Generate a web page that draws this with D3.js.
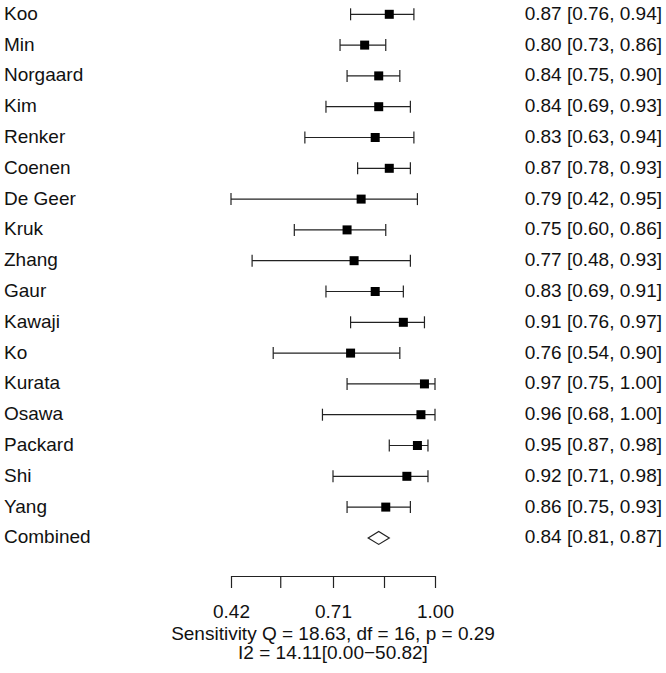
<!DOCTYPE html>
<html>
<head>
<meta charset="utf-8">
<script src="https://cdn.jsdelivr.net/npm/d3@7"></script>
<style>
  html, body { margin: 0; padding: 0; background: #fff; }
  svg { display: block; }
  text { font-family: "Liberation Sans", Arial, sans-serif; fill: #111; }
</style>
</head>
<body>
<svg id="chart" width="666" height="673"></svg>
<script>
const studies = ["Koo","Min","Norgaard","Kim","Renker","Coenen","De Geer","Kruk","Zhang","Gaur","Kawaji","Ko","Kurata","Osawa","Packard","Shi","Yang"];
const sens  = [0.87,0.80,0.84,0.84,0.83,0.87,0.79,0.75,0.77,0.83,0.91,0.76,0.97,0.96,0.95,0.92,0.86];
const lower = [0.76,0.73,0.75,0.69,0.63,0.78,0.42,0.60,0.48,0.69,0.76,0.54,0.75,0.68,0.87,0.71,0.75];
const upper = [0.94,0.86,0.90,0.93,0.94,0.93,0.95,0.86,0.93,0.91,0.97,0.90,1.00,1.00,0.98,0.98,0.93];
const combined = {label: "Combined", est: 0.84, lo: 0.81, hi: 0.87};
const tickValues = [0.42, 0.56, 0.71, 0.855, 1.00];
const tickLabels = ["0.42", "", "0.71", "", "1.00"];
const footer = ["Sensitivity Q = 18.63, df = 16, p = 0.29", "I2 = 14.11[0.00\u221250.82]"];

const fmt = d3.format(".2f");
const svg = d3.select("#chart");
const fs = 19;
const lineCol = "#222";

const x = d3.scaleLinear().domain([0.42, 1.00]).range([231, 435]);
const y = d3.scaleLinear().domain([0, studies.length]).range([14.3, 537.9]);

const rows = studies.map((s, i) => ({label: s, est: sens[i], lo: lower[i], hi: upper[i], i}));
const allRows = rows.concat([{...combined, i: studies.length}]);

// left labels
svg.append("g").selectAll("text").data(allRows)
  .join("text")
  .attr("x", 4).attr("y", d => y(d.i) + 5.5)
  .attr("font-size", fs)
  .text(d => d.label);

// right labels
svg.append("g").selectAll("text").data(allRows)
  .join("text")
  .attr("x", 662).attr("y", d => y(d.i) + 5.5)
  .attr("text-anchor", "end")
  .attr("font-size", fs)
  .text(d => `${fmt(d.est)} [${fmt(d.lo)}, ${fmt(d.hi)}]`);

// CI lines
const g = svg.append("g").attr("stroke", lineCol).attr("stroke-width", 1.2).attr("fill", "none");
g.selectAll("line.ci").data(rows).join("line").attr("class", "ci")
  .attr("x1", d => x(d.lo)).attr("x2", d => x(d.hi))
  .attr("y1", d => y(d.i)).attr("y2", d => y(d.i));
g.selectAll("line.capl").data(rows).join("line").attr("class", "capl")
  .attr("x1", d => x(d.lo)).attr("x2", d => x(d.lo))
  .attr("y1", d => y(d.i) - 6).attr("y2", d => y(d.i) + 6);
g.selectAll("line.caph").data(rows).join("line").attr("class", "caph")
  .attr("x1", d => x(d.hi)).attr("x2", d => x(d.hi))
  .attr("y1", d => y(d.i) - 6).attr("y2", d => y(d.i) + 6);

// squares
const sq = 9;
svg.append("g").selectAll("rect").data(rows).join("rect")
  .attr("x", d => x(d.est) - sq / 2).attr("y", d => y(d.i) - sq / 2)
  .attr("width", sq).attr("height", sq).attr("fill", "#000");

// diamond
const cy = y(studies.length);
svg.append("path")
  .attr("d", `M${x(combined.lo)},${cy} L${x(combined.est)},${cy - 6.5} L${x(combined.hi)},${cy} L${x(combined.est)},${cy + 6.5} Z`)
  .attr("fill", "#fff").attr("stroke", lineCol).attr("stroke-width", 1.2);

// axis
const axis = d3.axisBottom(x).tickValues(tickValues)
  .tickFormat((d, i) => tickLabels[i]).tickSize(12).tickSizeOuter(0).tickPadding(16.5);
const ax = svg.append("g").attr("transform", "translate(0,576)").call(axis);
ax.select(".domain").attr("stroke", lineCol).attr("stroke-width", 1.2);
ax.selectAll(".tick line").attr("stroke", lineCol).attr("stroke-width", 1.2);
ax.selectAll(".tick text").attr("font-size", fs).attr("font-family", "Liberation Sans, Arial, sans-serif").attr("fill", "#111");

// footer
svg.append("g").selectAll("text").data(footer).join("text")
  .attr("x", 333).attr("y", (d, i) => 639.5 + i * 19.5)
  .attr("text-anchor", "middle").attr("font-size", fs)
  .text(d => d);
</script>
</body>
</html>
